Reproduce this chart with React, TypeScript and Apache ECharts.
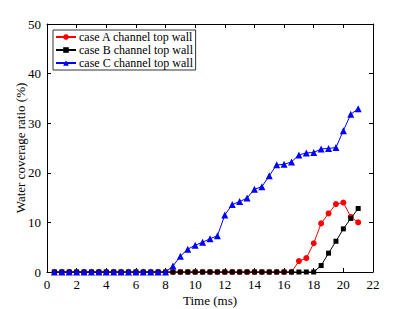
import React, { useEffect, useRef } from "react";
import * as echarts from "echarts";

const times: number[] = [];
for (let i = 1; i <= 42; i++) times.push(i * 0.5);

const caseA = [
  0,0,0,0,0,0,0,0,0,0,0,0,0,0,0,0,
  0,0,0,0,0,0,0,0,0,0,0,0,0,0,0,0,0,
  2.2,2.8,5.8,9.8,11.8,13.7,14.0,11.1,10.0,
];
const caseB = [
  0,0,0,0,0,0,0,0,0,0,0,0,0,0,0,0,
  0,0,0,0,0,0,0,0,0,0,0,0,0,0,0,0,0,0,0,0,
  1.3,3.8,6.2,8.7,10.8,12.8,
];
const caseC = [
  0,0,0,0,0,0,0,0,0,0,0,0,0,0,0,0,
  1.2,3.2,4.6,5.4,6.0,6.7,7.3,11.5,13.6,14.2,14.9,16.7,17.2,19.4,21.6,21.7,
  22.2,23.6,24.0,24.1,24.8,24.9,25.1,28.5,31.8,32.9,
];
const seriesNames = ["case A channel top wall", "case B channel top wall", "case C channel top wall"];
const colors = ["#ff0000", "#000000", "#0000ff"];
const symbols = ["circle", "rect", "triangle"];
const symbolSizes = [6, 5, 7];

export default function App() {
  const ref = useRef<HTMLDivElement>(null);
  useEffect(() => {
    if (!ref.current) return;
    const chart = echarts.init(ref.current, undefined, { renderer: "svg" });
    const font = "'Liberation Serif', 'Times New Roman', Times, serif";
    const datas = [caseA, caseB, caseC];
    const axisCommon = {
      axisLine: { show: true, onZero: false, lineStyle: { color: "#000", width: 1 } },
      axisTick: { show: true, inside: true, length: 4, lineStyle: { color: "#000" } },
      splitLine: { show: false },
    };
    chart.setOption({
      animation: false,
      textStyle: { fontFamily: font },
      grid: { left: 47, right: 34, top: 24, bottom: 37, outerBoundsMode: "none", containLabel: false },
      legend: {
        orient: "vertical",
        left: 53,
        top: 30,
        padding: [1, 2, 1, 2],
        itemGap: 1,
        itemWidth: 20,
        itemHeight: 7,
        backgroundColor: "#fff",
        borderColor: "#333",
        borderWidth: 1,
        textStyle: { fontFamily: font, fontSize: 12, color: "#000", padding: [0, 0, 0, -2] },
        data: seriesNames,
      },
      xAxis: [
        {
          type: "value", min: 0, max: 22, interval: 2, position: "bottom",
          name: "Time (ms)", nameLocation: "middle", nameGap: 22, nameMoveOverlap: false,
          nameTextStyle: { fontFamily: font, fontSize: 13, color: "#000" },
          axisLabel: { fontFamily: font, fontSize: 13, color: "#000", margin: 6 },
          ...axisCommon,
        },
        {
          type: "value", min: 0, max: 22, interval: 2, position: "top",
          axisLabel: { show: false },
          ...axisCommon,
        },
      ],
      yAxis: [
        {
          type: "value", min: 0, max: 50, interval: 10, position: "left",
          name: "Water coverage ratio (%)", nameLocation: "middle", nameGap: 20, nameMoveOverlap: false,
          nameTextStyle: { fontFamily: font, fontSize: 13, color: "#000" },
          axisLabel: { fontFamily: font, fontSize: 13, color: "#000", margin: 6 },
          ...axisCommon,
        },
        {
          type: "value", min: 0, max: 50, interval: 10, position: "right",
          axisLabel: { show: false },
          ...axisCommon,
        },
      ],
      series: datas.map((d, i) => ({
        name: seriesNames[i],
        type: "line",
        data: d.map((v, j) => [times[j], v]),
        symbol: symbols[i],
        symbolSize: symbolSizes[i],
        showAllSymbol: true,
        itemStyle: { color: colors[i] },
        lineStyle: { color: colors[i], width: 1 },
        z: 2 + i,
      })),
    });
    return () => chart.dispose();
  }, []);
  return (
    <div
      ref={ref}
      style={{ position: "absolute", left: 0, top: 0, width: 407, height: 309, background: "#fff" }}
    />
  );
}
